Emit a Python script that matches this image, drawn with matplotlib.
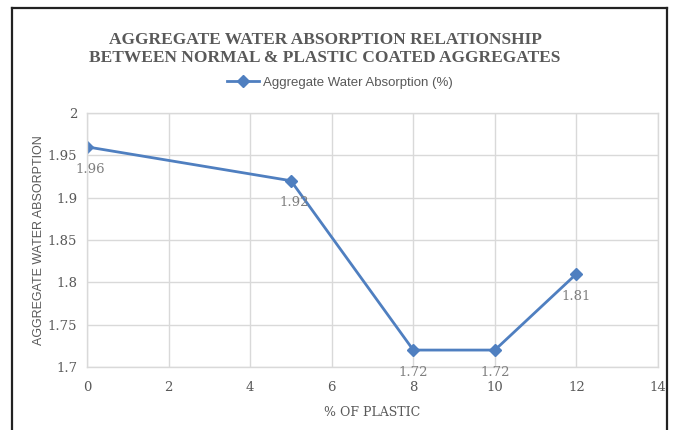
import matplotlib
matplotlib.use("Agg")
import matplotlib.pyplot as plt
from matplotlib.lines import Line2D

pct_plastic = [0, 5, 8, 10, 12]
absorption = [1.96, 1.92, 1.72, 1.72, 1.81]
x_ticks = [0, 2, 4, 6, 8, 10, 12, 14]
y_ticks = [1.7, 1.75, 1.8, 1.85, 1.9, 1.95, 2.0]
y_tick_labels = ["1.7", "1.75", "1.8", "1.85", "1.9", "1.95", "2"]

line_color = "#4f7fc0"
text_gray = "#595959"
grid_gray = "#d9d9d9"

fig = plt.figure(figsize=(6.78, 4.3), dpi=100)
fig.patch.set_facecolor("white")

W, H = 678, 430
def fx(px): return px / W
def fy(py): return 1 - py / H
for (x0, y0, x1, y1) in [(12, 8, 667, 8), (12, 8, 12, 430), (667, 8, 667, 430)]:
    fig.add_artist(Line2D([fx(x0), fx(x1)], [fy(y0), fy(y1)], color="#222222", lw=1.6))

ax = fig.add_axes([fx(87), fy(367), fx(658) - fx(87), fy(113) - fy(367)])
ax.plot(pct_plastic, absorption, color=line_color, lw=2, marker="D", markersize=6,
        label="Aggregate Water Absorption (%)")
ax.set_xlim(0, 14)
ax.set_ylim(1.7, 2.0)
ax.set_xticks(x_ticks)
ax.set_yticks(y_ticks)
ax.set_yticklabels(y_tick_labels)
ax.grid(True, color=grid_gray, lw=1)
ax.set_axisbelow(True)
for s in ax.spines.values():
    s.set_color(grid_gray)
    s.set_linewidth(1)
ax.tick_params(axis="y", length=0, colors=text_gray, pad=7)
ax.tick_params(axis="x", length=0, colors=text_gray, pad=10)
for lab in ax.get_xticklabels() + ax.get_yticklabels():
    lab.set_fontfamily("DejaVu Serif")
    lab.set_fontsize(9.5)

for xv, yv in zip(pct_plastic, absorption):
    ax.annotate(f"{yv:.2f}", (xv, yv), xytext=(2 if xv < 6 else 0, -16), textcoords="offset points",
                ha="center", va="center", color="#7f7f7f", fontsize=9.5,
                family="DejaVu Serif")

ax.set_xlabel("% OF PLASTIC", color=text_gray, fontsize=9, family="DejaVu Serif", labelpad=9)
ax.set_ylabel("AGGREGATE WATER ABSORPTION", color=text_gray, fontsize=9,
              family="Liberation Sans", labelpad=2)

fig.text(fx(325), fy(40), "AGGREGATE WATER ABSORPTION RELATIONSHIP",
         ha="center", va="center", fontsize=12.5, fontweight="bold", color=text_gray,
         family="Liberation Serif")
fig.text(fx(325), fy(58), "BETWEEN NORMAL & PLASTIC COATED AGGREGATES",
         ha="center", va="center", fontsize=12.5, fontweight="bold", color=text_gray,
         family="Liberation Serif")

leg = fig.legend(loc="center", bbox_to_anchor=(fx(340), fy(83)), frameon=False,
                 handlelength=2.4, handletextpad=0.3,
                 prop={"family": "Liberation Sans", "size": 9.5})
for t in leg.get_texts():
    t.set_color(text_gray)

fig.savefig("out.png", dpi=100)
